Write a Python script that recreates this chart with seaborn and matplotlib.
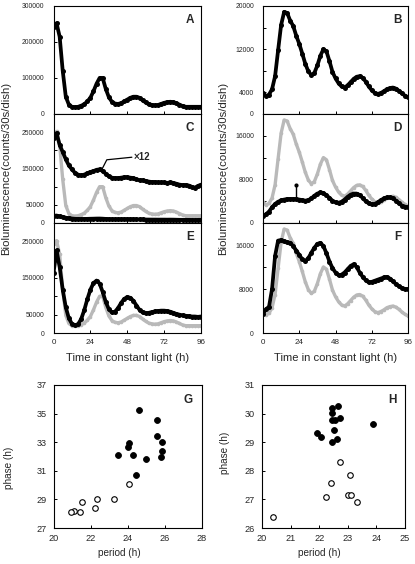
import matplotlib
matplotlib.use("Agg")
import matplotlib.pyplot as plt
import seaborn as sns
import numpy as np
import pandas as pd
from matplotlib.ticker import FixedLocator, FixedFormatter

sns.set_theme(style="white")
plt.rcParams["font.family"] = ["Liberation Sans", "DejaVu Sans"]

# ---------------- data ----------------
hours = list(range(0, 97, 2))

lum_A = [242000, 252000, 215000, 120000, 48000, 26000, 20000, 19000, 20000, 23000,
         27000, 35000, 45000, 63000, 84000, 100000, 100000, 70000, 47000, 34000,
         29000, 28000, 30000, 35000, 40000, 45000, 48000, 48000, 45000, 38000,
         32000, 27000, 25000, 24000, 25000, 28000, 31000, 33000, 34000, 33000,
         30000, 26000, 22000, 20000, 20000, 20000, 20000, 20000, 20000]

lum_B = [3900, 3300, 3600, 4600, 7000, 11800, 16500, 18900, 18700, 17300,
         16300, 14500, 13000, 11200, 9300, 7900, 7200, 7600, 9000, 10800,
         12000, 11600, 9800, 7800, 6600, 5700, 5100, 4900, 5300, 5900,
         6500, 6900, 7000, 6700, 6000, 5100, 4400, 3900, 3700, 3900,
         4200, 4600, 4800, 4900, 4700, 4300, 3800, 3400, 3100]

lum_C_raw = [19600, 20600, 17900, 16300, 14600, 13200, 12300, 11500, 11100, 10900,
             11100, 11400, 11700, 11900, 12200, 12300, 11900, 11300, 10700, 10400,
             10300, 10300, 10400, 10500, 10500, 10400, 10300, 10000, 9800, 9800,
             9600, 9500, 9400, 9400, 9300, 9300, 9300, 9200, 9300, 9200,
             9000, 8800, 8700, 8700, 8600, 8300, 8100, 8500, 8800]
C_scale = 12

lum_D = [1200, 1600, 2100, 2900, 3500, 3900, 4150, 4300, 4400, 4400,
         4400, 4400, 4300, 4200, 4100, 4200, 4500, 5000, 5400, 5600,
         5500, 5100, 4600, 4100, 3800, 3700, 3900, 4300, 4800, 5200,
         5400, 5400, 5100, 4600, 4000, 3600, 3400, 3500, 3800, 4200,
         4500, 4700, 4700, 4500, 4100, 3600, 3200, 3000, 2900]
D_spike_time = 22
D_spike_value = 6900

lum_E = [164000, 225000, 180000, 118000, 70000, 40000, 25000, 21000, 24000, 38000,
         62000, 92000, 118000, 136000, 143000, 135000, 112000, 85000, 65000, 56000,
         58000, 68000, 82000, 93000, 98000, 96000, 88000, 75000, 63000, 56000,
         54000, 55000, 57000, 59000, 60000, 61000, 61000, 60000, 58000, 55000,
         52000, 50000, 48000, 47000, 46000, 45000, 45000, 44000, 45000]

lum_F = [3500, 4300, 4800, 8000, 14000, 16800, 16900, 16700, 16500, 16400,
         15800, 15000, 14200, 13400, 13100, 13600, 14600, 15500, 16200, 16400,
         15800, 14500, 13000, 11800, 11000, 10500, 10600, 11000, 11600, 12200,
         12500, 12000, 11000, 10200, 9600, 9200, 9300, 9500, 9700, 9900,
         10100, 10200, 9900, 9400, 8900, 8500, 8200, 8000, 8000]

G_filled_period = [24.62, 25.60, 25.60, 25.86, 25.86, 25.78, 24.08, 24.03, 23.49, 24.26, 24.98, 24.42]
G_filled_phase = [35.25, 34.56, 33.44, 33.02, 32.36, 32.00, 32.95, 32.66, 32.10, 32.10, 31.83, 30.70]
G_open_period = [24.05, 23.28, 22.33, 21.55, 22.22, 21.44, 21.08, 20.94]
G_open_phase = [30.06, 29.02, 29.02, 28.80, 28.38, 28.15, 28.20, 28.10]

H_filled_period = [22.65, 22.44, 22.44, 22.44, 22.54, 22.74, 23.88, 22.50, 21.93, 22.06, 22.62, 22.44]
H_filled_phase = [30.28, 30.20, 30.02, 29.77, 29.77, 29.85, 29.65, 29.41, 29.33, 29.17, 29.10, 28.99]
H_open_period = [22.72, 23.07, 22.41, 22.23, 23.00, 23.11, 23.33, 20.38]
H_open_phase = [28.31, 27.86, 27.59, 27.08, 27.17, 27.17, 26.91, 26.40]

time_ticks = [0, 24, 48, 72, 96]
xlabel_time = "Time in constant light (h)"
ylabel_lum = "Bioluminescence(counts/30s/dish)"

# ---------------- layout ----------------
W, H = 415, 564
fig = plt.figure(figsize=(W / 100, H / 100), dpi=100)
fig.patch.set_facecolor("white")


def pos(x0, y0, x1, y1):
    return [x0 / W, 1 - y1 / H, (x1 - x0) / W, (y1 - y0) / H]


axA = fig.add_axes(pos(53.5, 6, 201, 114))
axC = fig.add_axes(pos(53.5, 114, 201, 223))
axE = fig.add_axes(pos(53.5, 223, 201, 333))
axB = fig.add_axes(pos(263, 6, 408, 114))
axD = fig.add_axes(pos(263, 114, 408, 223))
axF = fig.add_axes(pos(263, 223, 408, 333))
axG = fig.add_axes(pos(53.5, 385, 202, 528))
axH = fig.add_axes(pos(262, 385, 405, 528))

GRAY = "#b9b9b9"


def black_line(ax, y, x=hours):
    sns.lineplot(x=x, y=y, ax=ax, color="black", lw=2.7, marker="o", ms=3.6,
                 mew=0, estimator=None, sort=False, legend=False)


def gray_line(ax, y, x=hours):
    sns.lineplot(x=x, y=y, ax=ax, color=GRAY, lw=2.4, marker="o", ms=2.6,
                 mew=0, estimator=None, sort=False, legend=False)


# A
black_line(axA, lum_A)
# C
gray_line(axC, lum_A)
black_line(axC, [v * C_scale for v in lum_C_raw])
black_line(axC, lum_C_raw)
# E
gray_line(axE, lum_A)
black_line(axE, lum_E)
# B
black_line(axB, lum_B)
# D
gray_line(axD, lum_B)
black_line(axD, lum_D)
axD.plot([D_spike_time, D_spike_time], [lum_D[hours.index(D_spike_time)], D_spike_value],
         color="black", lw=1.0)
axD.plot([D_spike_time], [D_spike_value], "o", color="black", ms=3, mew=0)
# F
gray_line(axF, lum_B)
black_line(axF, lum_F)

# x12 annotation in C
axC.plot([31.4, 34.7, 51.0], [146700, 174000, 181000], color="black", lw=0.9)
axC.text(52.0, 181000, "×12", fontsize=7, fontweight="bold", ha="left", va="center")


def style_ts(ax, ymax, ticks, labels, show_x):
    ax.set_xlim(0, 96)
    ax.set_ylim(0, ymax)
    ax.xaxis.set_major_locator(FixedLocator(time_ticks))
    ax.yaxis.set_major_locator(FixedLocator(ticks))
    ax.yaxis.set_major_formatter(FixedFormatter(labels))
    if show_x:
        ax.set_xticklabels([str(t) for t in time_ticks])
    else:
        ax.set_xticklabels([])
    ax.tick_params(axis="both", direction="in", length=2.5, width=0.7, color="black",
                   bottom=True, left=True)
    ax.tick_params(axis="y", labelsize=4.9, pad=6.5)
    ax.tick_params(axis="x", labelsize=5.8, pad=4)
    ax.set_xlabel("")
    ax.set_ylabel("")
    for s in ax.spines.values():
        s.set_color("black")
        s.set_linewidth(0.8)
        s.set_visible(True)
    ax.set_facecolor("white")


style_ts(axA, 300000, [0, 100000, 200000, 300000], ["0", "100000", "200000", "300000"], False)
ce_ticks = [0, 50000, 100000, 150000, 200000, 250000]
ce_labels = ["0", "50000", "", "150000", "", "250000"]
style_ts(axC, 300000, ce_ticks, ce_labels, False)
style_ts(axE, 300000, ce_ticks, ce_labels, True)
style_ts(axB, 20000, [0, 4000, 8000, 12000, 16000, 20000], ["0", "4000", "", "12000", "", "20000"], False)
df_ticks = [0, 4000, 8000, 12000, 16000]
df_labels = ["0", "", "8000", "", "16000"]
style_ts(axD, 20000, df_ticks, df_labels, False)
style_ts(axF, 20000, df_ticks, df_labels, True)

for ax, letter in [(axA, "A"), (axC, "C"), (axE, "E"), (axB, "B"), (axD, "D"), (axF, "F")]:
    ax.text(0.955, 0.93, letter, transform=ax.transAxes, ha="right", va="top",
            fontsize=8.5, fontweight="bold")

# scatter panels
def scatter_panel(ax, fp, fph, op, oph, xlim, xticks, ylim, yticks, letter):
    sns.scatterplot(x=fp, y=fph, ax=ax, color="black", s=18, edgecolor="black",
                    linewidth=0.6, legend=False)
    sns.scatterplot(x=op, y=oph, ax=ax, facecolor="white", s=16, edgecolor="black",
                    linewidth=0.8, legend=False)
    ax.set_xlim(*xlim)
    ax.set_ylim(*ylim)
    ax.set_xticks(xticks)
    ax.set_yticks(yticks)
    ax.set_xticklabels([str(t) for t in xticks])
    ax.set_yticklabels([str(t) for t in yticks])
    ax.tick_params(axis="both", direction="in", length=2.5, width=0.7, color="black",
                   labelsize=6.6, bottom=True, left=True)
    ax.tick_params(axis="x", pad=4)
    ax.tick_params(axis="y", pad=5)
    ax.set_xlabel("")
    ax.set_ylabel("")
    for s in ax.spines.values():
        s.set_color("black")
        s.set_linewidth(0.8)
        s.set_visible(True)
    ax.text(0.94, 0.935, letter, transform=ax.transAxes, ha="right", va="top",
            fontsize=8.5, fontweight="bold")


scatter_panel(axG, G_filled_period, G_filled_phase, G_open_period, G_open_phase,
              (20, 28), [20, 22, 24, 26, 28], (27, 37), [27, 29, 31, 33, 35, 37], "G")
scatter_panel(axH, H_filled_period, H_filled_phase, H_open_period, H_open_phase,
              (20, 25), [20, 21, 22, 23, 24, 25], (26, 31), [26, 27, 28, 29, 30, 31], "H")

# axis labels as figure text
def ftext(x, y, s, rot=0, size=8):
    fig.text(x / W, 1 - y / H, s, rotation=rot, ha="center", va="center", fontsize=size)


ftext(6, 168, ylabel_lum, rot=90, size=8.2)
ftext(223, 168, ylabel_lum, rot=90, size=8.2)
ftext(128, 358, xlabel_time, size=8.1)
ftext(336, 358, xlabel_time, size=8.1)
ftext(119, 553, "period (h)", size=7.2)
ftext(319, 553, "period (h)", size=7.2)
ftext(9, 468, "phase (h)", rot=90, size=7.2)
ftext(225, 453, "phase (h)", rot=90, size=7.2)

fig.savefig("out.png", dpi=100, facecolor="white")
